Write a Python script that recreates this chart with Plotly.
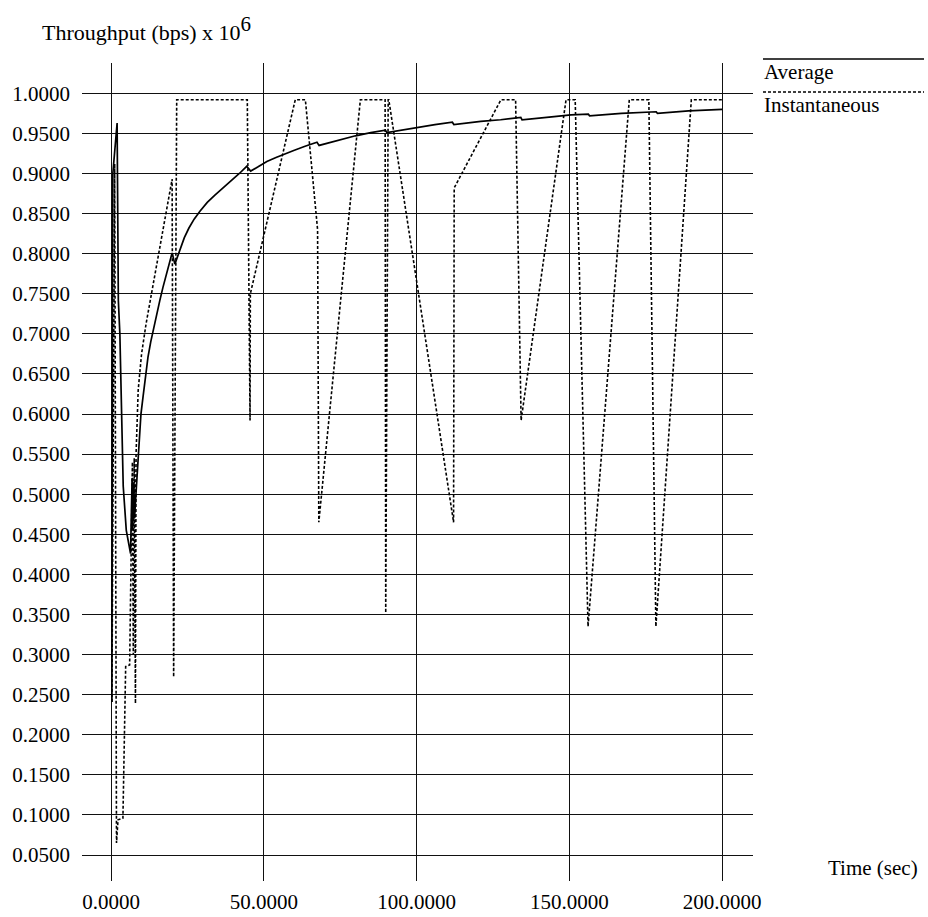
import plotly.graph_objects as go

# ---------------- data ----------------
avg_t = [0.3, 0.6, 2.0, 2.4, 2.9, 3.5, 4.0, 5.0, 6.4, 6.9, 7.1, 7.4, 7.7, 8.0, 8.3, 9.0,
         9.8, 10.5, 11.3, 12.1, 13.0, 13.8, 15.0, 16.0, 17.0, 18.2, 19.1, 20.0, 20.9,
         21.8, 22.8, 24.0, 25.5, 27.2, 29.1, 31.5, 34.0, 36.7, 39.5, 42.0, 44.4, 45.7,
         48.0, 51.0, 54.0, 57.0, 60.0, 63.5, 67.4, 68.1, 72.0, 76.0, 80.0, 85.0, 89.8,
         90.3, 95.0, 100.2, 106.0, 111.7, 112.2, 121.0, 127.5, 134.1, 134.5, 145.0, 150.5,
         156.2, 156.6, 167.0, 178.4, 178.8, 189.0, 200.0]
avg_y = [0.241, 0.900, 0.963, 0.742, 0.700, 0.600, 0.510, 0.455, 0.426, 0.520, 0.455, 0.515,
         0.470, 0.490, 0.510, 0.560, 0.600, 0.622, 0.648, 0.671, 0.690, 0.705, 0.725, 0.742,
         0.758, 0.775, 0.789, 0.801, 0.787, 0.797, 0.808, 0.820, 0.832, 0.843, 0.853, 0.864,
         0.873, 0.882, 0.891, 0.900, 0.909, 0.903, 0.908, 0.915, 0.920, 0.925, 0.929, 0.934,
         0.939, 0.935, 0.939, 0.943, 0.947, 0.951, 0.954, 0.951, 0.954, 0.958, 0.961, 0.964,
         0.961, 0.965, 0.967, 0.970, 0.967, 0.971, 0.973, 0.974, 0.972, 0.975, 0.977, 0.975,
         0.978, 0.980]

inst_t = [0.3, 1.2, 1.8, 2.3, 3.9, 4.8, 6.1, 7.0, 7.3, 7.6, 8.0, 8.2, 8.9, 10.0, 11.5,
          20.0, 20.5, 21.5, 44.6, 45.5, 45.6, 60.3, 63.6, 67.6, 68.0, 81.6, 89.7, 89.9,
          90.7, 90.9, 112.1, 112.3, 127.6, 132.4, 134.2, 148.9, 151.9, 156.1, 169.6, 176.0,
          178.3, 189.9, 200.0]
inst_y = [0.241, 0.912, 0.065, 0.094, 0.096, 0.285, 0.287, 0.540, 0.300, 0.545, 0.239, 0.550,
          0.630, 0.675, 0.713, 0.893, 0.272, 0.992, 0.992, 0.592, 0.750, 0.992, 0.992, 0.830,
          0.465, 0.992, 0.992, 0.352, 0.992, 0.992, 0.465, 0.882, 0.992, 0.992, 0.592, 0.992,
          0.992, 0.335, 0.992, 0.992, 0.335, 0.992, 0.992]

x_ticks = [0, 50, 100, 150, 200]
y_ticks = [0.05, 0.10, 0.15, 0.20, 0.25, 0.30, 0.35, 0.40, 0.45, 0.50, 0.55, 0.60, 0.65,
           0.70, 0.75, 0.80, 0.85, 0.90, 0.95, 1.00]

series_names = ["Average", "Instantaneous"]
y_title = "Throughput (bps) x 10<sup><span style='font-size:21px'>6</span></sup>"
x_title = "Time (sec)"

# ---------------- layout geometry ----------------
W, H = 928, 917
L, R, T, B = 82, 175, 63, 36
PW, PH = W - L - R, H - T - B


def px(x, y):
    return (x - L) / PW, (H - B - y) / PH


FONT = "Liberation Serif, Times New Roman, serif"
FS = 21
DOT = "3px,2px"

fig = go.Figure()
fig.add_trace(go.Scatter(x=avg_t, y=avg_y, mode="lines", name=series_names[0],
                         line=dict(color="black", width=1.7)))
fig.add_trace(go.Scatter(x=inst_t, y=inst_y, mode="lines", name=series_names[1],
                         line=dict(color="black", width=1.6, dash=DOT)))

shapes = []
annotations = []
# legend
for i, (name, dash, yy) in enumerate([(series_names[0], "solid", 59), (series_names[1], DOT, 92)]):
    x0, y0 = px(763, yy)
    x1, _ = px(924, yy)
    shapes.append(dict(type="line", xref="paper", yref="paper", x0=x0, x1=x1, y0=y0, y1=y0,
                       line=dict(color="black", width=1.5, dash=dash)))
    ax, ay = px(762, yy + 13)
    annotations.append(dict(text=name, xref="paper", yref="paper", x=ax, y=ay,
                            xanchor="left", yanchor="middle", showarrow=False,
                            font=dict(family=FONT, size=FS, color="black")))

tx, ty = px(40, 28)
annotations.append(dict(text=y_title, xref="paper", yref="paper", x=tx, y=ty,
                        xanchor="left", yanchor="middle", showarrow=False,
                        font=dict(family=FONT, size=22, color="black")))
tx, ty = px(826, 868)
annotations.append(dict(text=x_title, xref="paper", yref="paper", x=tx, y=ty,
                        xanchor="left", yanchor="middle", showarrow=False,
                        font=dict(family=FONT, size=FS, color="black")))

fig.update_layout(
    width=W, height=H,
    margin=dict(l=L, r=R, t=T, b=B, pad=0, autoexpand=False),
    paper_bgcolor="white", plot_bgcolor="white",
    showlegend=False,
    font=dict(family=FONT, size=FS, color="black"),
    shapes=shapes, annotations=annotations,
    xaxis=dict(range=[-9.49, 210.08], tickvals=x_ticks, tickformat=".4f",
               showgrid=True, gridcolor="#111", gridwidth=1, zeroline=False,
               showline=False, ticks="", ticklabelstandoff=6, automargin=False,
               tickfont=dict(family=FONT, size=FS, color="black")),
    yaxis=dict(range=[0.0176, 1.0378], tickvals=y_ticks, tickformat=".4f",
               showgrid=True, gridcolor="#111", gridwidth=1, zeroline=False,
               showline=False, ticks="", ticklabelstandoff=11, automargin=False,
               tickfont=dict(family=FONT, size=FS, color="black")),
)

fig.write_html("out.html")
